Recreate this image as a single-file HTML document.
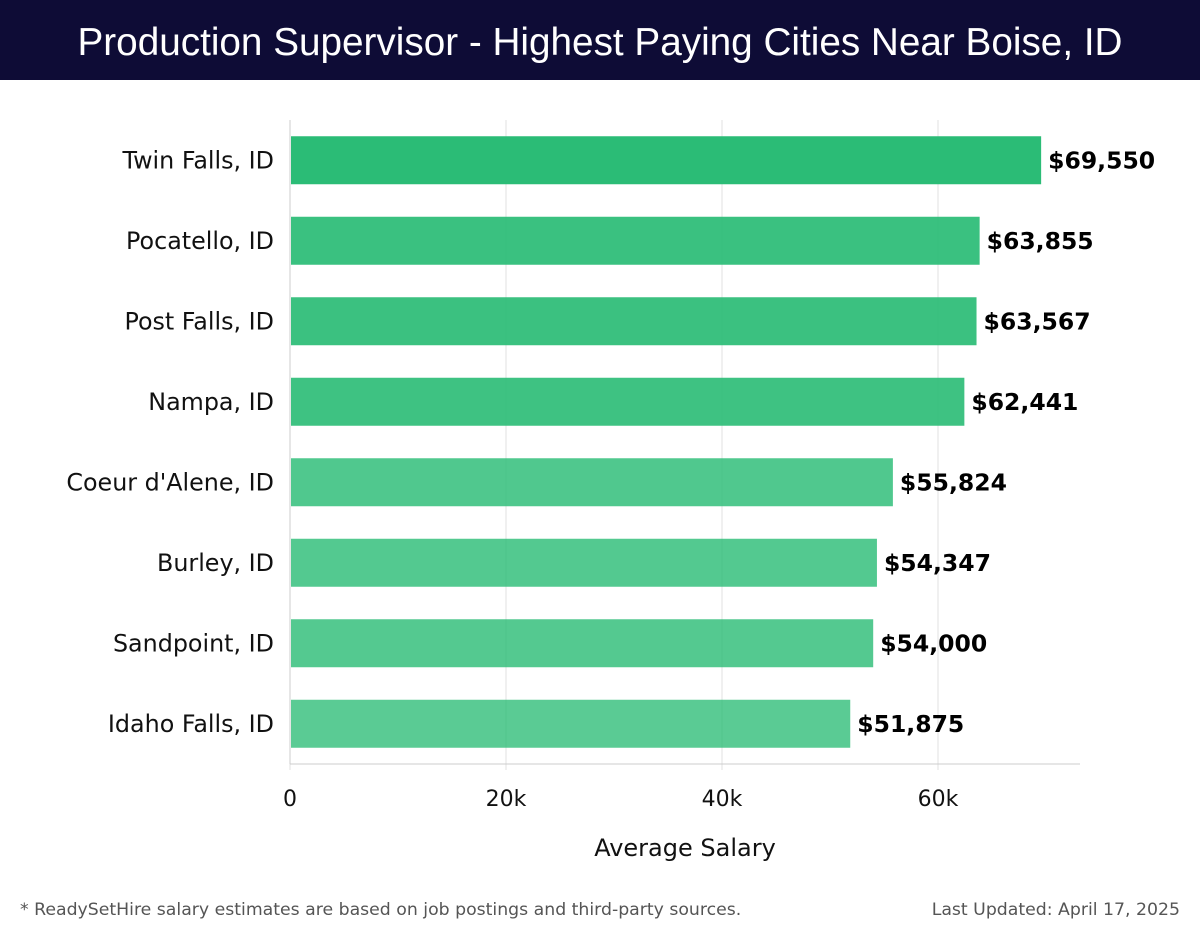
<!DOCTYPE html>
<html><head><meta charset="utf-8"><style>
body{margin:0;width:1200px;height:940px;background:#fff;font-family:"DejaVu Sans","Liberation Sans",sans-serif;overflow:hidden;position:relative}
.hdr{position:absolute;left:0;top:0;width:1200px;height:80px;background:#0e0c36;color:#fff;font-family:"Liberation Sans",sans-serif;font-size:38.7px;text-align:center;line-height:86px;font-weight:300}
.foot{position:absolute;top:900px;font-size:17.3px;color:#555}
</style></head><body>
<div class="hdr">Production Supervisor - Highest Paying Cities Near Boise, ID</div>
<svg id="chart" width="1200" height="940" style="position:absolute;left:0;top:0;pointer-events:none;font-family:'DejaVu Sans',sans-serif"></svg>
<div class="foot" style="left:20px">* ReadySetHire salary estimates are based on job postings and third-party sources.</div>
<div class="foot" style="right:20px">Last Updated: April 17, 2025</div>
<script>
const cities=["Twin Falls, ID","Pocatello, ID","Post Falls, ID","Nampa, ID","Coeur d'Alene, ID","Burley, ID","Sandpoint, ID","Idaho Falls, ID"];
const salaries=[69550,63855,63567,62441,55824,54347,54000,51875];
const ticks=[0,20000,40000,60000];
const tickLabels=["0","20k","40k","60k"];
const NS="http://www.w3.org/2000/svg";
const svg=document.getElementById('chart');
const x0=290,pxPer=216/20000,top0=120,bottom0=764,xEnd=1080;
const band=(bottom0-top0)/cities.length;
const xs=v=>x0+v*pxPer;
function mk(t,a,p){const e=document.createElementNS(NS,t);for(const k in a)e.setAttribute(k,a[k]);(p||svg).appendChild(e);return e;}
ticks.forEach((t,i)=>{
 const g=mk('line',{x1:xs(t),x2:xs(t),y1:top0,y2:bottom0+6,stroke:'#e0e0e0','stroke-width':1});
 
 
 const tx=mk('text',{x:xs(t),y:806,'text-anchor':'middle','font-size':22,fill:'#111'});
 tx.textContent=tickLabels[i];
 
 
});
const ax=mk('line',{x1:x0,x2:xEnd,y1:bottom0,y2:bottom0,stroke:'#ccc','stroke-width':1});


const ay=mk('line',{x1:x0,x2:x0,y1:top0,y2:bottom0,stroke:'#ccc','stroke-width':1});


const mx=Math.max(...salaries),mn=Math.min(...salaries);
cities.forEach((c,i)=>{
 const cy=top0+band*(i+0.5),v=salaries[i];
 const op=0.78+0.22*(v-mn)/((mx-mn)||1);
 const b=mk('rect',{x:x0+1,y:cy-24,width:xs(v)-x0-1,height:48,fill:'#2bbc76','fill-opacity':op});
 
 
 const l=mk('text',{x:274,y:cy+8,'text-anchor':'end','font-size':23.8,fill:'#111'});
 l.textContent=c;
 
 
 const vl=mk('text',{x:xs(v)+7,y:cy+8,'font-size':23.5,'font-weight':'bold',fill:'#000'});
 vl.textContent='$'+v.toLocaleString('en-US');
 
 
});
const xt=mk('text',{x:685,y:856,'text-anchor':'middle','font-size':24,fill:'#111'});
xt.textContent='Average Salary';


</script>
</body></html>
